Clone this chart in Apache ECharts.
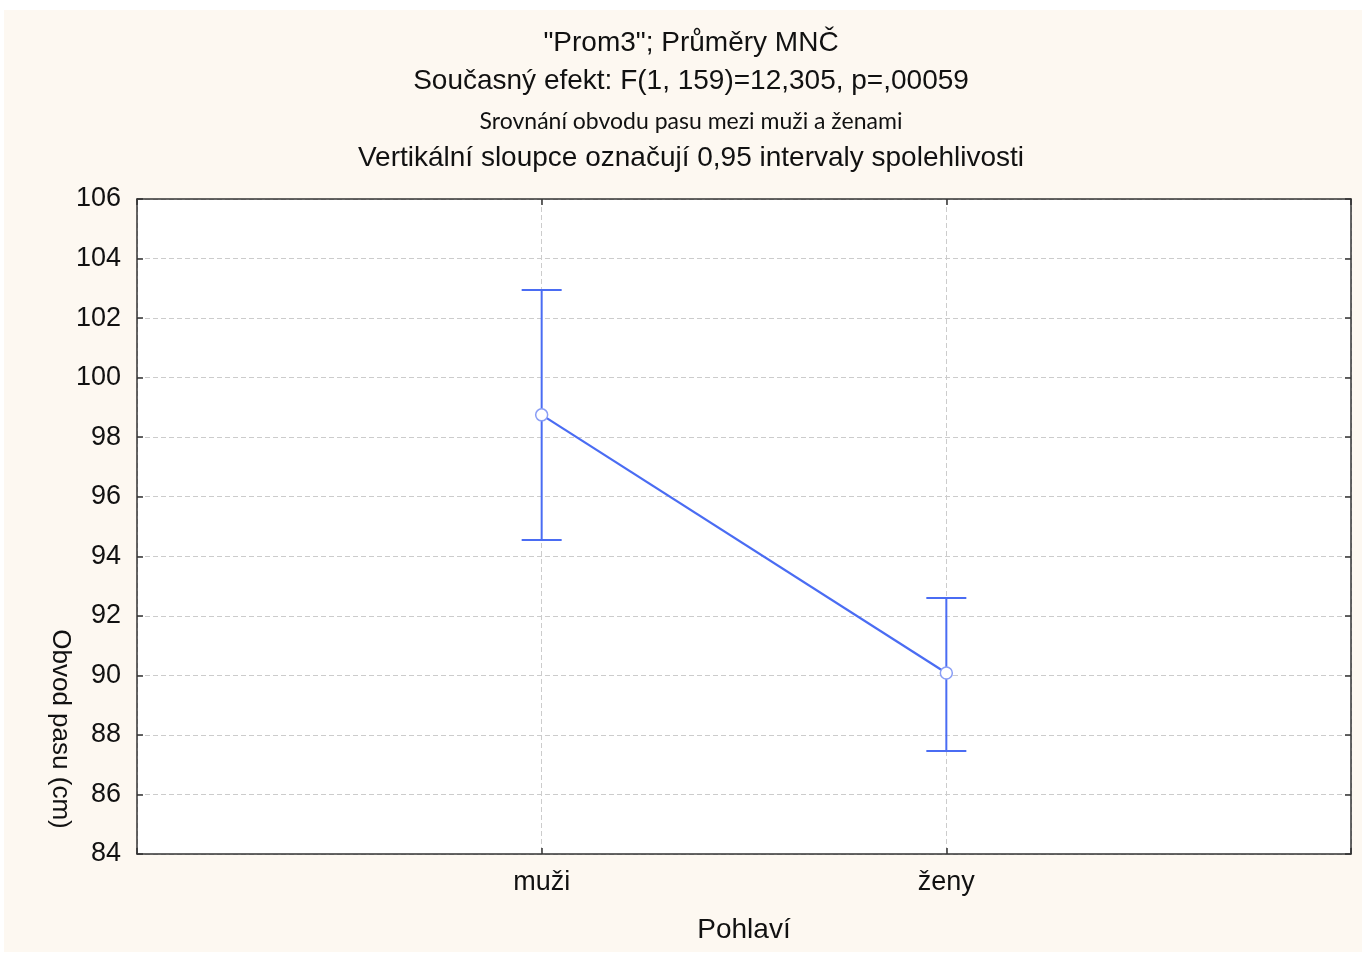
<!DOCTYPE html>
<html>
<head>
<meta charset="utf-8">
<title>Obvod pasu</title>
<script src="https://cdn.jsdelivr.net/npm/echarts@6/dist/echarts.min.js"></script>
<style>
  html, body { margin: 0; padding: 0; background: #ffffff; }
  #wrap { position: relative; width: 1367px; height: 954px; }
  #frame { position: absolute; left: 4px; top: 10px; width: 1358px; height: 942px; background: #fdf8f1; }
  #chart { position: absolute; left: 0; top: 0; width: 1367px; height: 954px; }
</style>
</head>
<body>
<div id="wrap"><div id="frame"></div><div id="chart"></div></div>
<script>
// data
var groups = ['muži', 'ženy'];
var means = [98.75, 90.08];
var lower = [94.55, 87.46];
var upper = [102.94, 92.60];
var yMin = 84, yMax = 106, yStep = 2;

var titleLines = [
  '"Prom3"; Průměry MNČ',
  'Současný efekt: F(1, 159)=12,305, p=,00059',
  'Srovnání obvodu pasu mezi muži a ženami',
  'Vertikální sloupce označují 0,95 intervaly spolehlivosti'
];

var blue = '#4a6cf3';
var font = '"Liberation Sans", Arial, sans-serif';

var meanData = means.map(function (m, i) { return [i + 1, m]; });
var ciData = groups.map(function (g, i) { return [i + 1, lower[i], upper[i]]; });

var chartDom = document.getElementById('chart');
var myChart = echarts.init(chartDom); // init

function axisX(pos, withLabels) {
  return {
    type: 'value', position: pos, min: 0, max: 3, interval: 1,
    axisLine: { show: true, onZero: false, lineStyle: { color: '#333', width: 1.5 } },
    axisTick: { show: true, inside: true, length: 6, lineStyle: { color: '#333', width: 1.5 } },
    axisLabel: {
      show: withLabels, margin: 15, color: '#111', fontSize: 27, fontFamily: font,
      formatter: function (v) { return groups[v - 1] || ''; }
    },
    splitLine: { show: withLabels, lineStyle: { color: '#cccccc', type: [5, 3], width: 1 } },
    name: withLabels ? 'Pohlaví' : '',
    nameLocation: 'middle', nameGap: 62,
    nameTextStyle: { color: '#111', fontSize: 28, fontFamily: font }
  };
}
function axisY(pos, withLabels) {
  return {
    type: 'value', position: pos, min: yMin, max: yMax, interval: yStep,
    axisLine: { show: true, onZero: false, lineStyle: { color: '#333', width: 1.5 } },
    axisTick: { show: true, inside: true, length: 6, lineStyle: { color: '#333', width: 1.5 } },
    axisLabel: { show: withLabels, margin: 16, color: '#111', fontSize: 27, fontFamily: font },
    splitLine: { show: withLabels, lineStyle: { color: '#cccccc', type: [5, 3], width: 1 } }
  };
}

var titleY = [43, 81, 122, 158];
var graphics = [];
titleLines.forEach(function (t, i) {
  graphics.push({
    type: 'text', x: 691, y: titleY[i], z: 10,
    style: {
      text: t, textAlign: 'center', textVerticalAlign: 'middle', fill: '#111',
      font: (i === 2 ? '23px Lato, sans-serif' : '28px ' + font)
    }
  });
});
graphics.push({
  type: 'text', x: 60, y: 729, rotation: -Math.PI / 2, z: 10,
  style: {
    text: 'Obvod pasu (cm)', textAlign: 'center', textVerticalAlign: 'middle',
    fill: '#111', font: '26px ' + font
  }
});

var option = {
  animation: false,
  backgroundColor: 'transparent',
  graphic: graphics,
  grid: {
    left: 137, top: 199, right: 16, bottom: 100,
    show: true, backgroundColor: '#ffffff', borderWidth: 0
  },
  xAxis: [axisX('bottom', true), axisX('top', false)],
  yAxis: [axisY('left', true), axisY('right', false)],
  series: [
    {
      type: 'custom',
      data: ciData,
      z: 3,
      renderItem: function (params, api) {
        var x = api.value(0);
        var lo = api.coord([x, api.value(1)]);
        var hi = api.coord([x, api.value(2)]);
        var w = 20;
        var st = { stroke: blue, lineWidth: 2 };
        return {
          type: 'group',
          children: [
            { type: 'line', shape: { x1: lo[0], y1: lo[1], x2: hi[0], y2: hi[1] }, style: st },
            { type: 'line', shape: { x1: lo[0] - w, y1: lo[1], x2: lo[0] + w, y2: lo[1] }, style: st },
            { type: 'line', shape: { x1: hi[0] - w, y1: hi[1], x2: hi[0] + w, y2: hi[1] }, style: st }
          ]
        };
      }
    },
    {
      type: 'line',
      data: meanData,
      z: 4,
      symbol: 'circle',
      symbolSize: 12,
      lineStyle: { color: blue, width: 2.2 },
      itemStyle: { color: '#ffffff', borderColor: '#8a9ef5', borderWidth: 1.5 }
    }
  ]
};
myChart.setOption(option);
</script>
</body>
</html>
